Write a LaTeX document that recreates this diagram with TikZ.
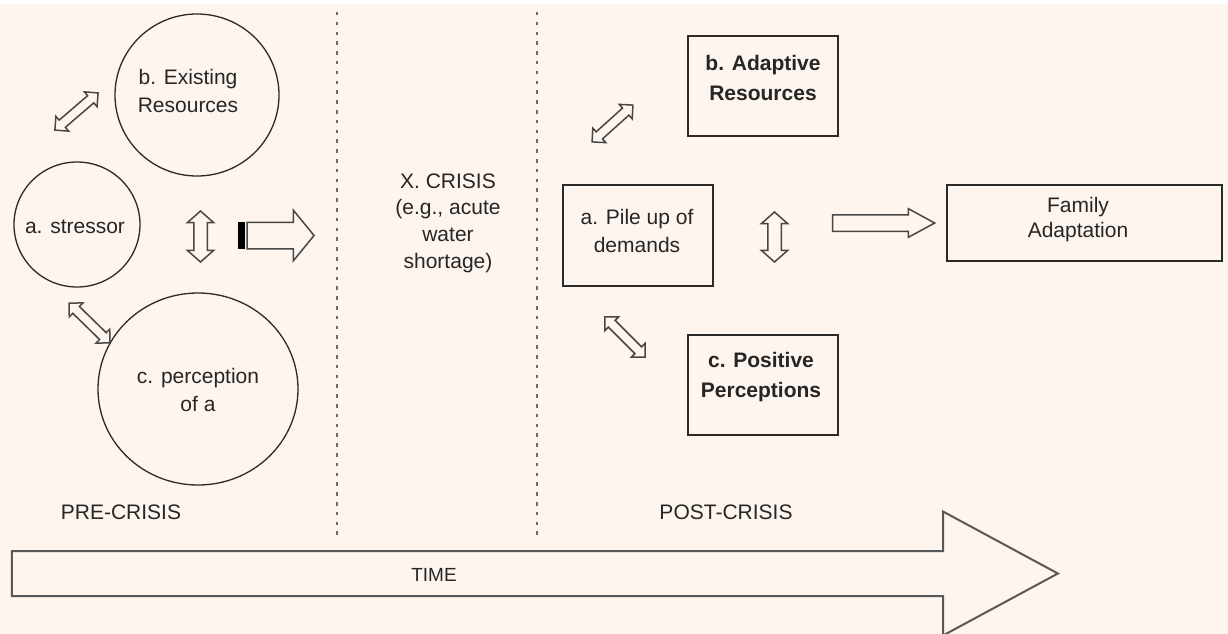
\documentclass[tikz,border=0pt]{standalone}
\usepackage{fontspec}
\setmainfont{Liberation Sans}
\usetikzlibrary{shapes.geometric,shapes.arrows}
\definecolor{bgc}{HTML}{FDF5EE}
\definecolor{linec}{HTML}{2A2A2A}
\definecolor{arrc}{HTML}{474747}
\definecolor{dashc}{HTML}{6E6E6E}
\tikzset{
  txt/.style={font=\fontsize{21}{28}\selectfont, align=center, inner sep=0pt, text=black!85},
  ring/.style={ellipse, draw=linec, line width=1.3pt, inner sep=0pt},
  boxn/.style={rectangle, draw=linec, line width=1.5pt, inner sep=0pt},
  dblarrow/.style={double arrow, draw=arrc, fill=bgc, line width=1.5pt, inner sep=0pt,
     text height=#1, text depth=0pt, text width=0pt},
  sglarrow/.style={single arrow, draw=arrc, fill=bgc, line width=1.5pt, inner sep=0pt,
     text height=#1, text depth=0pt, text width=0pt},
  divider/.style={draw=dashc, line width=2pt, dash pattern=on 3.5pt off 6.3pt}
}
\begin{document}
\begin{tikzpicture}[x=1pt,y=-1pt]
\useasboundingbox (0,0) rectangle (1228,634);
\fill[white] (0,0) rectangle (1228,634);
\fill[bgc] (0,4) rectangle (1228,634);

% dividers
\draw[divider] (337,12) -- (337,535);
\draw[divider] (537,12) -- (537,535);

% time arrow
\node[sglarrow=43pt, draw=arrc!90, line width=2pt, minimum height=1046pt,
      single arrow head extend=39.5pt, single arrow tip angle=56.7, anchor=tip]
      (timearrow) at (1060,573.5) {};
\node[txt, font=\fontsize{19}{24}\selectfont] (timelbl) at (434,575) {TIME};

% pre-crisis circles
\node[ring, minimum width=164pt, minimum height=162pt] (cb) at (197,95) {};
\node[ring, minimum width=126pt, minimum height=125pt] (ca) at (77,224.5) {};
\node[ring, minimum width=200pt, minimum height=192pt] (cc) at (198,389) {};
\node[txt] (cbt) at (188,91) {b. Existing\\Resources};
\node[txt] (cat) at (75,227) {a. stressor};
\node[txt] (cct) at (198,389.5) {c. perception\\of a};

% pre-crisis double arrows
\node[dblarrow=8pt, minimum height=57pt, double arrow head extend=5pt, rotate=40.7] (d1) at (76.5,111.5) {};
\node[dblarrow=8pt, minimum height=57pt, double arrow head extend=5pt, rotate=-44.3] (d2) at (89.5,323) {};
\node[dblarrow=12pt, minimum height=51pt, double arrow head extend=6.5pt, double arrow tip angle=97, rotate=90] (v1) at (200.5,236.5) {};

% striped arrow to crisis
\node[sglarrow=25pt, minimum height=67pt, single arrow head extend=12pt, single arrow tip angle=101.5, anchor=tip] (toX) at (315,235.5) {};
\node[rectangle, fill=black, inner sep=0pt, minimum width=6.5pt, minimum height=27pt] (stripe) at (241.5,235.5) {};

\node[txt, font=\fontsize{21}{26.7}\selectfont] (crisis) at (448,223) {X. CRISIS\\(e.g., acute\\water\\shortage)};

% post-crisis boxes
\node[boxn, minimum width=150pt, minimum height=100pt] (adapt) at (763,86) {};
\node[boxn, minimum width=150pt, minimum height=101pt] (pile) at (638,235.5) {};
\node[boxn, minimum width=150pt, minimum height=100pt] (posit) at (763,385) {};
\node[boxn, minimum width=275pt, minimum height=76pt] (family) at (1084.5,223) {};
\node[txt, font=\fontsize{21}{30}\selectfont\bfseries] (adaptt) at (763,78) {b. Adaptive\\Resources};
\node[txt] (pilet) at (637,231) {a. Pile up of\\demands};
\node[txt, font=\fontsize{21}{30}\selectfont\bfseries] (positt) at (761,377) {c. Positive\\Perceptions};
\node[txt, font=\fontsize{21}{25}\selectfont] (familyt) at (1078,219.5) {Family\\Adaptation};

% post-crisis double arrows
\node[dblarrow=8pt, minimum height=55pt, double arrow head extend=5pt, rotate=42] (d3) at (612.5,123.5) {};
\node[dblarrow=8pt, minimum height=57pt, double arrow head extend=5pt, rotate=-45] (d4) at (625,337) {};
\node[dblarrow=12pt, minimum height=50pt, double arrow head extend=6.5pt, double arrow tip angle=97, rotate=90] (v2) at (774.5,237) {};

% arrow to family adaptation
\node[sglarrow=15pt, minimum height=102pt, single arrow head extend=6pt, single arrow tip angle=57, anchor=tip] (toF) at ([xshift=-10pt]family.west) {};

% phase labels
\node[txt] (pre) at (121,512) {PRE-CRISIS};
\node[txt] (post) at (726,512) {POST-CRISIS};
\end{tikzpicture}
\end{document}
